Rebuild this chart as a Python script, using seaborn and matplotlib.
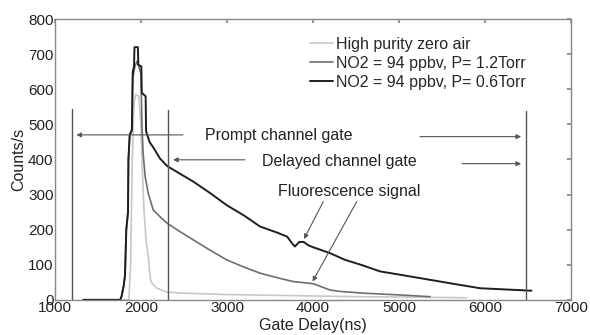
import matplotlib
matplotlib.use('Agg')
import matplotlib.pyplot as plt
import seaborn as sns
import pandas as pd

# Данные
zero_x = [1330, 1860, 1880, 1900, 1920, 1940, 1975, 2000, 2012, 2035, 2060, 2085, 2110, 2125, 2180,
          2300, 2500, 3000, 4000, 4500, 5000, 5787]
zero_y = [0, 0, 100, 400, 560, 585, 580, 500, 400, 260, 170, 125, 60, 48, 34,
          22, 19, 15, 11, 9, 8, 6]

p12_x = [1330, 1760, 1775, 1800, 1815, 1830, 1850, 1855, 1870, 1895, 1905, 1930, 1955, 1975, 2000,
         2012, 2025, 2050, 2085, 2143, 2221, 2306, 2450, 2608, 2800, 2996, 3200, 3384, 3600, 3771,
         4003, 4198, 4314, 4585, 5000, 5360]
p12_y = [0, 0, 10, 40, 70, 200, 250, 400, 470, 480, 630, 665, 680, 665, 645,
         500, 420, 350, 304, 256, 237, 218, 195, 171, 142, 114, 93, 76, 62, 52,
         46, 28, 24, 19, 14, 9]

p06_x = [1330, 1760, 1775, 1800, 1815, 1830, 1850, 1855, 1870, 1895, 1905, 1920, 1925, 1965, 1970,
         2005, 2010, 2055, 2060, 2100, 2150, 2221, 2306, 2450, 2608, 2800, 2996, 3200, 3384, 3600,
         3700, 3760, 3790, 3840, 3890, 3950, 4000, 4198, 4372, 4580, 4779, 5000, 5360, 5600, 5942,
         6200, 6540]
p06_y = [0, 0, 10, 40, 70, 200, 250, 400, 470, 485, 650, 665, 720, 720, 670,
         665, 590, 580, 480, 450, 432, 403, 381, 360, 337, 305, 270, 240, 209, 190,
         180, 160, 152, 165, 165, 155, 150, 133, 114, 98, 81, 72, 57, 47, 33,
         30, 26]

gate_x = [1200, 2315, 6470]
gate_top = [545, 541, 538]

labels = ['High purity zero air', 'NO2 = 94 ppbv, P= 1.2Torr', 'NO2 = 94 ppbv, P= 0.6Torr']

sns.set_theme(style='white')
plt.rcParams['font.family'] = ['Liberation Sans', 'DejaVu Sans']

fig, ax = plt.subplots(figsize=(5.9, 3.35), dpi=100)
fig.subplots_adjust(left=0.093, right=0.968, bottom=0.105, top=0.943)

sns.lineplot(x=zero_x, y=zero_y, ax=ax, color='#c8c8c8', lw=1.2, label=labels[0], estimator=None)
sns.lineplot(x=p12_x, y=p12_y, ax=ax, color='#6e6e6e', lw=1.2, label=labels[1], estimator=None)
sns.lineplot(x=p06_x, y=p06_y, ax=ax, color='#1e1e1e', lw=1.4, label=labels[2], estimator=None)

# вертикальные линии ворот
for gx, gt in zip(gate_x, gate_top):
    ax.plot([gx, gx], [0, gt], color='#555555', lw=1)

arr = dict(arrowstyle='-|>', color='#555555', lw=0.8, mutation_scale=7, shrinkA=0, shrinkB=0)
ax.annotate('', xy=(1250, 470), xytext=(2490, 470), arrowprops=arr)
ax.annotate('', xy=(6419, 465), xytext=(5244, 465), arrowprops=arr)
ax.annotate('', xy=(2374, 399), xytext=(3209, 399), arrowprops=arr)
ax.annotate('', xy=(6419, 388), xytext=(5733, 388), arrowprops=arr)
ax.annotate('', xy=(3895, 173), xytext=(4120, 280), arrowprops=arr)
ax.annotate('', xy=(3995, 52), xytext=(4508, 280), arrowprops=arr)

ax.text(2750, 468, 'Prompt channel gate', fontsize=11.5, va='center', color='#222222')
ax.text(3405, 394, 'Delayed channel gate', fontsize=11.5, va='center', color='#222222')
ax.text(3595, 308, 'Fluorescence signal', fontsize=11.5, va='center', color='#222222')

ax.set_xlim(1000, 7000)
ax.set_ylim(0, 800)
ax.set_xticks(range(1000, 7001, 1000))
ax.set_yticks(range(0, 801, 100))
ax.tick_params(direction='in', top=True, right=True, length=3, labelsize=11, pad=1,
               color='#888888', labelcolor='#222222')
for s in ax.spines.values():
    s.set_color('#888888')
    s.set_linewidth(1)
ax.set_xlabel('Gate Delay(ns)', fontsize=11.5, labelpad=2, color='#222222')
ax.set_ylabel('Counts/s', fontsize=11.5, labelpad=1, color='#222222')

ax.legend(loc='upper left', bbox_to_anchor=(0.495, 0.936), frameon=False, fontsize=11.5,
          handlelength=1.4, handletextpad=0.2, labelspacing=0.25, borderpad=0, borderaxespad=0)

fig.savefig('out.png', dpi=100)
